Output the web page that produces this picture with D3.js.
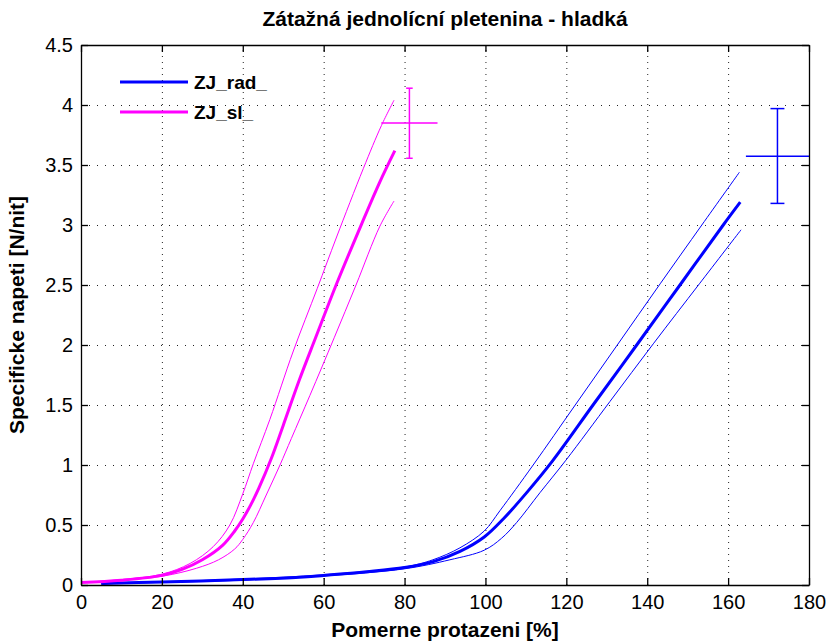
<!DOCTYPE html>
<html>
<head>
<meta charset="utf-8">
<script src="https://cdn.jsdelivr.net/npm/d3@7"></script>
<style>
  body { margin: 0; background: #fff; }
  text { font-family: "Liberation Sans", Arial, sans-serif; }
</style>
</head>
<body>
<svg id="chart" width="826" height="643"></svg>
<script>
// ---- data ----
var xTicks = [0, 20, 40, 60, 80, 100, 120, 140, 160, 180]
var yTicks = [0, 0.5, 1, 1.5, 2, 2.5, 3, 3.5, 4, 4.5]
var seriesNames = ['ZJ_rad_', 'ZJ_sl_']
var seriesColors = ['#0000ff', '#ff00ff']

// ZJ_sl_ (magenta): mean, mean + sd, mean - sd
var slMean = [[0, 0.02], [10, 0.04], [20, 0.08], [25, 0.13], [30, 0.21], [35, 0.33], [38, 0.45], [40, 0.55], [42, 0.67], [44, 0.81], [47, 1.05], [50, 1.33], [54, 1.71], [58, 2.06], [63.2, 2.51], [69.4, 3.01], [73.9, 3.36], [77.6, 3.62]]
var slUpper = [[0, 0.02], [10, 0.045], [20, 0.09], [27, 0.18], [32.7, 0.32], [36.8, 0.5], [40, 0.76], [42.6, 1.01], [46.7, 1.38], [52.5, 1.95], [58.4, 2.47], [63.2, 2.9], [69.8, 3.47], [74.3, 3.83], [77.4, 4.04]]
var slLower = [[0, 0.02], [10, 0.04], [20.4, 0.075], [28.6, 0.14], [34, 0.21], [38, 0.3], [40, 0.38], [42.6, 0.52], [45.8, 0.75], [49.2, 1.0], [52, 1.22], [56.6, 1.58], [62.6, 2.06], [68, 2.5], [73.9, 2.99], [77.4, 3.2]]

// ZJ_rad_ (blue): mean, mean + sd, mean - sd
var radMean = [[5, 0.012], [20, 0.025], [40, 0.045], [54, 0.065], [60, 0.08], [70.6, 0.11], [80, 0.145], [87.1, 0.195], [93.7, 0.28], [99.7, 0.40], [104.4, 0.55], [110.2, 0.77], [116.5, 1.03], [126.6, 1.5], [137.4, 2.0], [148.1, 2.5], [158.8, 3.0], [163, 3.19]]
var radUpper = [[5, 0.014], [20, 0.027], [40, 0.05], [60, 0.085], [80, 0.15], [87, 0.21], [93.7, 0.31], [99.7, 0.45], [103.6, 0.62], [111.8, 1.0], [122.2, 1.5], [132.6, 2.0], [143.2, 2.51], [153.5, 3.0], [162.8, 3.44]]
var radLower = [[5, 0.01], [20, 0.022], [40, 0.04], [60, 0.075], [80, 0.135], [91.2, 0.21], [99.7, 0.29], [104, 0.39], [107.7, 0.52], [113.5, 0.77], [119.9, 1.04], [130.8, 1.53], [141.5, 2.01], [152.9, 2.51], [163.2, 2.96]]

// error crosses at the break point: [x, y, xErr, yLow, yHigh]
var slBreak = [81.2, 3.85, 6.95, 3.556, 4.14]
var radBreak = [172.2, 3.572, 7.8, 3.18, 3.97]

// ---- layout ----
var width = 826, height = 643
var margin = { top: 45, right: 17, bottom: 58, left: 81 }

var svg = d3.select('#chart')

var xScale = d3.scaleLinear()
  .domain([0, 180])
  .range([margin.left, width - margin.right])

var yScale = d3.scaleLinear()
  .domain([0, 4.5])
  .range([height - margin.bottom, margin.top])

var plotW = width - margin.left - margin.right
var plotH = height - margin.top - margin.bottom

svg.append('defs').append('clipPath')
  .attr('id', 'plot-clip')
  .append('rect')
  .attr('x', margin.left)
  .attr('y', margin.top)
  .attr('width', plotW)
  .attr('height', plotH)

// grid
svg.append('g')
  .attr('class', 'grid')
  .attr('transform', `translate(0,${height - margin.bottom})`)
  .call(d3.axisBottom(xScale).tickValues(xTicks.slice(1, -1)).tickSize(-plotH).tickFormat(''))
  .call(g => g.select('.domain').remove())
  .selectAll('line')
  .style('stroke', '#222')
  .style('stroke-width', 1)
  .style('stroke-dasharray', '1,5')

svg.append('g')
  .attr('class', 'grid')
  .attr('transform', `translate(${margin.left},0)`)
  .call(d3.axisLeft(yScale).tickValues(yTicks.slice(1, -1)).tickSize(-plotW).tickFormat(''))
  .call(g => g.select('.domain').remove())
  .selectAll('line')
  .style('stroke', '#222')
  .style('stroke-width', 1)
  .style('stroke-dasharray', '1,7')

// curves
var lineDraw = d3.line()
  .x(d => xScale(d[0]))
  .y(d => yScale(d[1]))
  .curve(d3.curveCatmullRom.alpha(0.5))

var curves = [
  { data: radUpper, color: seriesColors[0], w: 1 },
  { data: radLower, color: seriesColors[0], w: 1 },
  { data: radMean, color: seriesColors[0], w: 3 },
  { data: slUpper, color: seriesColors[1], w: 1 },
  { data: slLower, color: seriesColors[1], w: 1 },
  { data: slMean, color: seriesColors[1], w: 3 }
]

var linesG = svg.append('g')
  .attr('class', 'lines')
  .attr('clip-path', 'url(#plot-clip)')

linesG.selectAll('path')
  .data(curves)
  .enter()
  .append('path')
  .attr('d', d => lineDraw(d.data))
  .style('fill', 'none')
  .style('stroke', d => d.color)
  .style('stroke-width', d => d.w)

// error crosses
var breaks = [
  { b: slBreak, color: seriesColors[1] },
  { b: radBreak, color: seriesColors[0] }
]

breaks.forEach(function(e) {
  var b = e.b
  var cx = xScale(b[0])
  var cap = xScale(b[0] / 100) - xScale(0)
  var g = linesG.append('g')
    .style('stroke', e.color)
    .style('stroke-width', 1.5)
  g.append('line')
    .attr('x1', cx).attr('x2', cx)
    .attr('y1', yScale(b[3])).attr('y2', yScale(b[4]))
  g.append('line')
    .attr('x1', cx - cap).attr('x2', cx + cap)
    .attr('y1', yScale(b[3])).attr('y2', yScale(b[3]))
  g.append('line')
    .attr('x1', cx - cap).attr('x2', cx + cap)
    .attr('y1', yScale(b[4])).attr('y2', yScale(b[4]))
  g.append('line')
    .attr('x1', xScale(b[0] - b[2])).attr('x2', xScale(b[0] + b[2]))
    .attr('y1', yScale(b[1])).attr('y2', yScale(b[1]))
})

// axes with inward ticks on all sides
var tickLen = 7

svg.append('g')
  .attr('class', 'x-axis')
  .attr('transform', `translate(0,${height - margin.bottom})`)
  .call(d3.axisBottom(xScale).tickValues(xTicks).tickSize(-tickLen).tickPadding(10).tickSizeOuter(0))
  .selectAll('text')
  .style('font-size', '20px')
  .style('fill', '#000')

svg.append('g')
  .attr('class', 'x-axis-top')
  .attr('transform', `translate(0,${margin.top})`)
  .call(d3.axisTop(xScale).tickValues(xTicks).tickSize(-tickLen).tickFormat('').tickSizeOuter(0))

svg.append('g')
  .attr('class', 'y-axis')
  .attr('transform', `translate(${margin.left},0)`)
  .call(d3.axisLeft(yScale).tickValues(yTicks).tickSize(-tickLen).tickPadding(8).tickSizeOuter(0).tickFormat(d3.format('~g')))
  .selectAll('text')
  .style('font-size', '20px')
  .style('fill', '#000')

svg.append('g')
  .attr('class', 'y-axis-right')
  .attr('transform', `translate(${width - margin.right},0)`)
  .call(d3.axisRight(yScale).tickValues(yTicks).tickSize(-tickLen).tickFormat('').tickSizeOuter(0))

svg.selectAll('.x-axis, .x-axis-top, .y-axis, .y-axis-right')
  .selectAll('.domain, line')
  .style('stroke', '#000')
  .style('stroke-width', 1.3)

// title and labels
svg.append('text')
  .attr('x', (margin.left + width - margin.right) / 2)
  .attr('y', 26)
  .attr('text-anchor', 'middle')
  .style('font-size', '21px')
  .style('font-weight', 'bold')
  .text('Zátažná jednolícní pletenina - hladká')

svg.append('text')
  .attr('x', (margin.left + width - margin.right) / 2)
  .attr('y', 637)
  .attr('text-anchor', 'middle')
  .style('font-size', '21px')
  .style('font-weight', 'bold')
  .text('Pomerne protazeni [%]')

svg.append('text')
  .attr('transform', `translate(24,${(margin.top + height - margin.bottom) / 2}) rotate(-90)`)
  .attr('text-anchor', 'middle')
  .style('font-size', '21px')
  .style('font-weight', 'bold')
  .text('Specificke napeti [N/nit]')

// legend
var legendG = svg.append('g')
  .attr('class', 'legend')

seriesNames.forEach(function(name, i) {
  var ly = 82 + i * 30
  legendG.append('line')
    .attr('x1', 120).attr('x2', 188)
    .attr('y1', ly).attr('y2', ly)
    .style('stroke', seriesColors[i])
    .style('stroke-width', 3)
  legendG.append('text')
    .attr('x', 194)
    .attr('y', ly + 7)
    .style('font-size', '19px')
    .style('font-weight', 'bold')
    .text(name)
})
</script>
</body>
</html>
